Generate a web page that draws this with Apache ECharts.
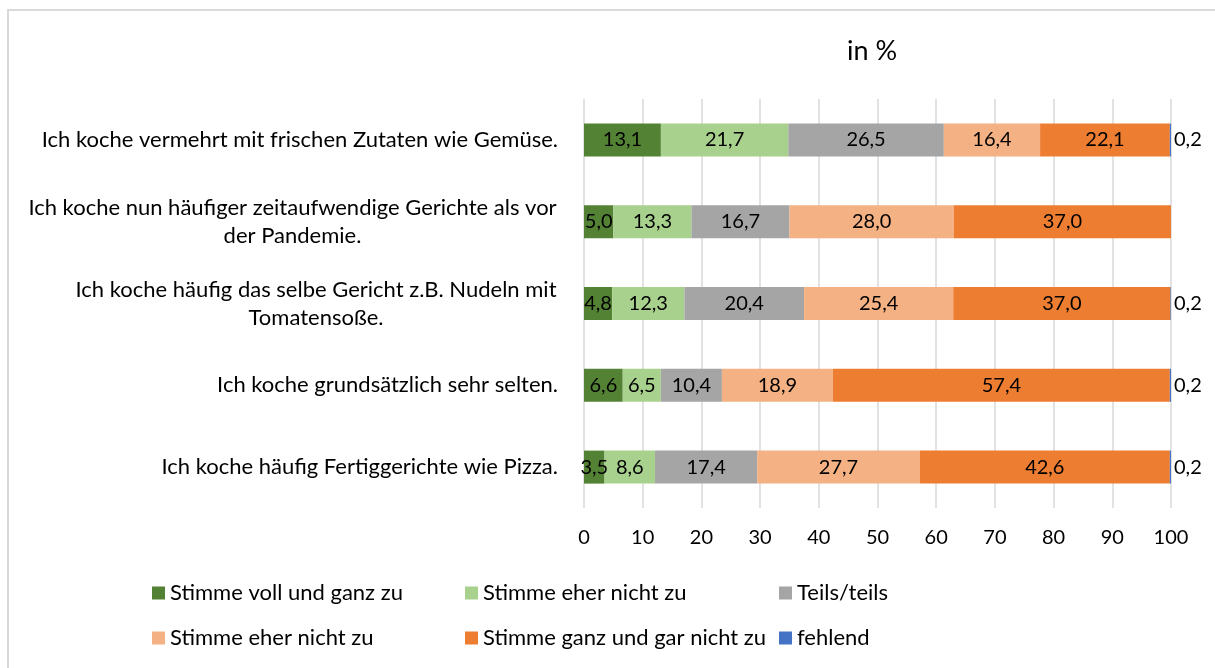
<!DOCTYPE html>
<html>
<head>
<meta charset="utf-8">
<script src="https://cdn.jsdelivr.net/npm/echarts@6/dist/echarts.min.js"></script>
<style>
  html, body { margin: 0; padding: 0; background: #fff; }
  #chart { width: 1215px; height: 668px; }
</style>
</head>
<body>
<div id="chart"></div>
<script>
// Kategorien von oben nach unten
var categories = [
  "Ich koche vermehrt mit frischen Zutaten wie Gemüse.",
  "Ich koche nun häufiger zeitaufwendige Gerichte als vor\nder Pandemie.",
  "Ich koche häufig das selbe Gericht z.B. Nudeln mit\nTomatensoße.",
  "Ich koche grundsätzlich sehr selten.",
  "Ich koche häufig Fertiggerichte wie Pizza."
];
var legendNames = [
  "Stimme voll und ganz zu",
  "Stimme eher nicht zu",
  "Teils/teils",
  "Stimme eher nicht zu",
  "Stimme ganz und gar nicht zu",
  "fehlend"
];
var colors = ["#548235", "#A9D18E", "#A5A5A5", "#F4B183", "#ED7D31", "#4472C4"];
var vollGanz = [13.1, 5.0, 4.8, 6.6, 3.5];
var eherNicht1 = [21.7, 13.3, 12.3, 6.5, 8.6];
var teilsTeils = [26.5, 16.7, 20.4, 10.4, 17.4];
var eherNicht2 = [16.4, 28.0, 25.4, 18.9, 27.7];
var ganzGar = [22.1, 37.0, 37.0, 57.4, 42.6];
var fehlend = [0.2, 0, 0.2, 0.2, 0.2];
var xTicks = [0, 10, 20, 30, 40, 50, 60, 70, 80, 90, 100];

var FONT = "Lato";
var chart = echarts.init(document.getElementById("chart"));

// mehrzeilige Beschriftungen: Zeilen mittig in einem rechtsbündigen Block
var ctx = document.createElement("canvas").getContext("2d");
ctx.font = "22px " + FONT;
var rich = {};
categories.forEach(function (c, i) {
  var w = Math.max.apply(null, c.split("\n").map(function (l) { return ctx.measureText(l).width; }));
  rich["c" + i] = { width: Math.ceil(w) + 2, align: "center", fontSize: 22, fontFamily: FONT, color: "#000", lineHeight: 28 };
});

function fmt(v) {
  return v ? v.toFixed(1).replace(".", ",") : "";
}

var seriesData = [vollGanz, eherNicht1, teilsTeils, eherNicht2, ganzGar, fehlend];
var series = seriesData.map(function (arr, i) {
  return {
    name: "s" + i,
    type: "bar",
    stack: "total",
    barWidth: 33,
    data: arr,
    itemStyle: { color: colors[i] },
    label: {
      show: true,
      position: i === 5 ? "right" : "inside",
      distance: 3,
      color: "#000",
      fontSize: 20,
      fontFamily: FONT,
      formatter: function (p) { return fmt(p.value); }
    }
  };
});

function legendCol(left, names) {
  return {
    orient: "vertical",
    left: left,
    top: 582,
    padding: 0,
    itemGap: 23,
    itemWidth: 13,
    itemHeight: 13,
    icon: "rect",
    data: names,
    textStyle: { fontSize: 22, lineHeight: 22, fontFamily: FONT, color: "#000" },
    formatter: function (n) { return legendNames[+n.slice(1)]; }
  };
}

chart.setOption({
  animation: false,
  textStyle: { fontFamily: FONT },
  title: {
    text: "in %",
    left: 872,
    textAlign: "center",
    top: 38,
    padding: 0,
    textStyle: { fontSize: 27, fontWeight: "normal", color: "#000", fontFamily: FONT }
  },
  graphic: [{
    type: "rect",
    shape: { x: 8, y: 10, width: 1220, height: 680 },
    style: { fill: "none", stroke: "#D9D9D9", lineWidth: 2 },
    silent: true
  }],
  legend: [
    legendCol(152, ["s0", "s3"]),
    legendCol(465, ["s1", "s4"]),
    legendCol(779, ["s2", "s5"])
  ],
  grid: { left: 584, right: 44, top: 99, bottom: 160, containLabel: false },
  xAxis: {
    type: "value",
    min: xTicks[0],
    max: xTicks[xTicks.length - 1],
    interval: 10,
    axisLine: { show: false },
    axisTick: { show: false },
    splitLine: { lineStyle: { color: "#D9D9D9", width: 1.5 } },
    axisLabel: { fontSize: 20, fontFamily: FONT, color: "#000", margin: 20 }
  },
  yAxis: {
    type: "category",
    inverse: true,
    data: categories,
    axisLine: { show: false },
    axisTick: { show: false },
    axisLabel: {
      margin: 26,
      fontSize: 22,
      fontFamily: FONT,
      color: "#000",
      lineHeight: 28,
      rich: rich,
      formatter: function (v, i) {
        if (v.indexOf("\n") < 0) return v;
        return v.split("\n").map(function (l) { return "{c" + i + "|" + l + "}"; }).join("\n");
      }
    }
  },
  series: series
});
</script>
</body>
</html>
